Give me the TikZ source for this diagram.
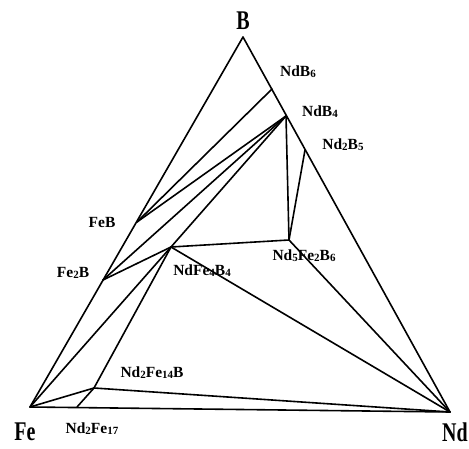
\documentclass[tikz,border=0pt]{standalone}
\usepackage{fontspec}
\setmainfont{Liberation Serif}
\newfontfamily\vertexfont[FakeStretch=0.74]{Liberation Serif}
\usepackage{tikz}
\usetikzlibrary{positioning}

\newcommand{\lblfont}{\bfseries\fontsize{15.5}{15.5}\selectfont}
\newcommand{\dg}[1]{\raisebox{-1pt}{\fontsize{11}{11}\selectfont #1}}

\begin{document}
\begin{tikzpicture}[x=1pt,y=-1pt]
\tikzstyle{every node}=[font=\lblfont, inner sep=0pt]
\tikzstyle{tie}=[line width=1.6pt, line join=round, line cap=round]
\tikzstyle{vertex}=[font=\vertexfont\bfseries\fontsize{27}{27}\selectfont]
\useasboundingbox (0,0) rectangle (469,449);

% corners
\coordinate (Fe) at (30,407);
\coordinate (B) at (243,37);
\coordinate (Nd) at (450,412);

% phases
\coordinate (NdB6) at (272,89);
\coordinate (NdB4) at (286,116);
\coordinate (Nd2B5) at (305,150);
\coordinate (FeB) at (137,222);
\coordinate (Fe2B) at (103,280);
\coordinate (NdFe4B4) at (171,247);
\coordinate (Nd5Fe2B6) at (289,240);
\coordinate (Nd2Fe14B) at (94,388);
\coordinate (Nd2Fe17) at (77,407);

\draw[tie] (Fe) -- (B) -- (Nd) -- cycle;
\draw[tie] (NdB6) -- (FeB);
\draw[tie] (NdB4) -- (FeB);
\draw[tie] (NdB4) -- (Fe2B);
\draw[tie] (NdB4) -- (NdFe4B4);
\draw[tie] (NdB4) -- (Nd5Fe2B6);
\draw[tie] (Nd2B5) -- (Nd5Fe2B6);
\draw[tie] (Fe2B) -- (NdFe4B4);
\draw[tie] (Fe) -- (NdFe4B4);
\draw[tie] (Nd2Fe17) -- (Nd2Fe14B) -- (NdFe4B4);
\draw[tie] (Fe) -- (Nd2Fe14B) -- (Nd);
\draw[tie] (NdFe4B4) -- (Nd5Fe2B6) -- (Nd);
\draw[tie] (NdFe4B4) -- (Nd);

\node[vertex] (lB) at (243,21) {B};
\node[vertex] (lFe) at (25,432) {Fe};
\node[vertex] (lNd) at (455,432) {Nd};

\node (lNdB6) at (298,72) {NdB\dg{6}};
\node (lNdB4) at (320,112) {NdB\dg{4}};
\node (lNd2B5) at (343,145) {Nd\dg{2}B\dg{5}};
\node (lFeB) at (102,222) {FeB};
\node (lFe2B) at (73,273) {Fe\dg{2}B};
\node (lNd5Fe2B6) at (304,256) {Nd\dg{5}Fe\dg{2}B\dg{6}};
\node (lNdFe4B4) at (202,271) {NdFe\dg{4}B\dg{4}};
\node (lNd2Fe14B) at (152,373) {Nd\dg{2}Fe\dg{14}B};
\node (lNd2Fe17) at (92,429) {Nd\dg{2}Fe\dg{17}};

\end{tikzpicture}
\end{document}
